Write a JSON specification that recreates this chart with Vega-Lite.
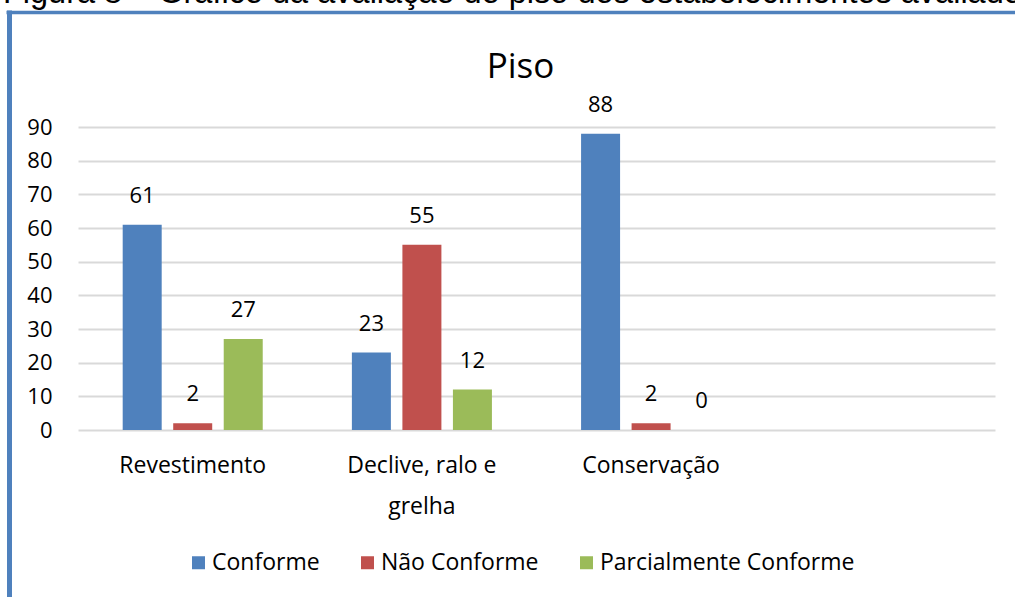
{
  "$schema": "https://vega.github.io/schema/vega-lite/v6.json",
  "width": 917,
  "height": 303,
  "autosize": {"type": "none"},
  "padding": {"left": 78, "top": 127, "right": 20, "bottom": 167},
  "background": "white",
  "config": {"view": {"stroke": null}},
  "title": {
    "text": "Figura 8 – Gráfico da avaliação do piso dos estabelecimentos avaliados",
    "subtitle": "Piso",
    "anchor": "middle",
    "frame": "group",
    "dx": -16,
    "font": "Liberation Sans",
    "fontSize": 32.5,
    "fontWeight": "normal",
    "color": "#000000",
    "subtitleFont": "Open Sans",
    "subtitleFontSize": 35,
    "subtitleColor": "#000000",
    "subtitlePadding": 41,
    "offset": -73
  },
  "data": {
    "values": [
      {"item": "Revestimento", "status": "Conforme", "valor": 61},
      {"item": "Revestimento", "status": "Não Conforme", "valor": 2},
      {"item": "Revestimento", "status": "Parcialmente Conforme", "valor": 27},
      {"item": "Declive, ralo e grelha", "status": "Conforme", "valor": 23},
      {"item": "Declive, ralo e grelha", "status": "Não Conforme", "valor": 55},
      {"item": "Declive, ralo e grelha", "status": "Parcialmente Conforme", "valor": 12},
      {"item": "Conservação", "status": "Conforme", "valor": 88},
      {"item": "Conservação", "status": "Não Conforme", "valor": 2},
      {"item": "Conservação", "status": "Parcialmente Conforme", "valor": 0}
    ]
  },
  "layer": [
    {
      "mark": {"type": "bar"},
      "encoding": {
        "x": {
          "field": "item",
          "type": "nominal",
          "sort": null,
          "scale": {
            "domain": ["Revestimento", "Declive, ralo e grelha", "Conservação", " "],
            "paddingInner": 0.389,
            "paddingOuter": 0.195
          },
          "axis": {
            "title": null,
            "orient": "bottom",
            "labelAngle": 0,
            "labelFont": "Open Sans",
            "labelFontSize": 23,
            "labelColor": "#000000",
            "labelPadding": 24,
            "labelLineHeight": 41,
            "labelLimit": 400,
            "ticks": false,
            "domain": false,
            "grid": false,
            "labelExpr": "datum.value == 'Declive, ralo e grelha' ? ['Declive, ralo e', 'grelha'] : datum.label"
          }
        },
        "xOffset": {
          "field": "status",
          "type": "nominal",
          "sort": ["Conforme", "Não Conforme", "Parcialmente Conforme"],
          "scale": {"paddingInner": 0.228, "paddingOuter": 0}
        },
        "y": {
          "field": "valor",
          "type": "quantitative",
          "scale": {"domain": [0, 90], "nice": false},
          "axis": {
            "title": null,
            "orient": "left",
            "values": [0, 10, 20, 30, 40, 50, 60, 70, 80, 90],
            "labelFont": "Open Sans",
            "labelFontSize": 22,
            "labelColor": "#000000",
            "labelPadding": 26,
            "ticks": false,
            "domain": false,
            "gridColor": "#d9d9d9",
            "gridWidth": 2
          }
        },
        "color": {
          "field": "status",
          "type": "nominal",
          "scale": {
            "domain": ["Conforme", "Não Conforme", "Parcialmente Conforme"],
            "range": ["#4F81BD", "#C0504D", "#9BBB59"]
          },
          "legend": {
            "orient": "none",
            "legendX": 109,
            "legendY": 424,
            "direction": "horizontal",
            "title": null,
            "symbolType": "square",
            "symbolSize": 169,
            "symbolStrokeWidth": 0,
            "symbolOpacity": 1,
            "labelFont": "Open Sans",
            "labelFontSize": 23,
            "labelColor": "#000000",
            "labelLimit": 400,
            "labelOffset": 2,
            "columnPadding": 36,
            "padding": 0
          }
        }
      }
    },
    {
      "mark": {
        "type": "text",
        "baseline": "alphabetic",
        "dy": -22,
        "font": "Open Sans",
        "fontSize": 22,
        "color": "#000000"
      },
      "encoding": {
        "x": {
          "field": "item",
          "type": "nominal",
          "sort": null,
          "scale": {
            "domain": ["Revestimento", "Declive, ralo e grelha", "Conservação", " "],
            "paddingInner": 0.389,
            "paddingOuter": 0.195
          },
          "axis": null
        },
        "xOffset": {
          "field": "status",
          "type": "nominal",
          "sort": ["Conforme", "Não Conforme", "Parcialmente Conforme"],
          "scale": {"paddingInner": 0.228, "paddingOuter": 0}
        },
        "y": {
          "field": "valor",
          "type": "quantitative",
          "scale": {"domain": [0, 90], "nice": false},
          "axis": null
        },
        "text": {"field": "valor", "type": "quantitative"}
      }
    },
    {
      "mark": {"type": "rule", "opacity": 0},
      "encoding": {
        "x": {
          "datum": 0,
          "type": "quantitative",
          "scale": {"domain": [0, 1], "range": [-72, 940], "nice": false, "zero": false},
          "axis": {
            "orient": "top",
            "offset": 115,
            "title": null,
            "labels": false,
            "ticks": false,
            "grid": false,
            "domain": true,
            "domainColor": "#4F81BD",
            "domainWidth": 3.5
          }
        },
        "y": {
          "datum": 0,
          "type": "quantitative",
          "scale": {"domain": [0, 1], "range": [475, -117], "nice": false, "zero": false},
          "axis": {
            "orient": "left",
            "offset": 69,
            "title": null,
            "labels": false,
            "ticks": false,
            "grid": false,
            "domain": true,
            "domainColor": "#4F81BD",
            "domainWidth": 5
          }
        }
      }
    }
  ],
  "resolve": {
    "scale": {"x": "independent", "y": "independent"},
    "axis": {"x": "independent", "y": "independent"}
  }
}
